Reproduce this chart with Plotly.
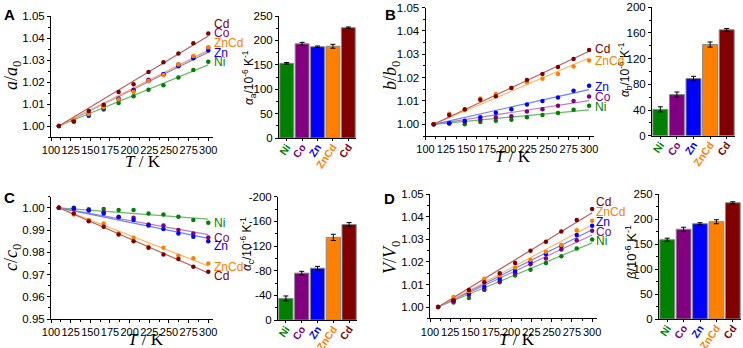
import numpy as np
import plotly.graph_objects as go

W, H = 743, 348

# ---------------- data ----------------
T = [110, 129, 148, 167, 186, 205, 224, 243, 262, 281, 300]
names = ["Ni", "Co", "Zn", "ZnCd", "Cd"]

a_Ni   = [1.000, 1.0020, 1.0045, 1.0075, 1.0105, 1.0135, 1.0165, 1.0185, 1.0220, 1.0255, 1.0292]
a_Co   = [1.000, 1.0025, 1.0055, 1.0090, 1.0125, 1.0165, 1.0210, 1.0235, 1.0280, 1.0315, 1.0355]
a_Zn   = [1.000, 1.0025, 1.0050, 1.0080, 1.0120, 1.0160, 1.0205, 1.0235, 1.0272, 1.0308, 1.0343]
a_ZnCd = [1.000, 1.0030, 1.0055, 1.0085, 1.0120, 1.0155, 1.0205, 1.0232, 1.0280, 1.0318, 1.0358]
a_Cd   = [1.000, 1.0020, 1.0068, 1.0097, 1.0155, 1.0190, 1.0246, 1.0290, 1.0330, 1.0376, 1.0421]

b_Ni   = [1.000, 1.0003, 1.0000, 1.0010, 1.0015, 1.0020, 1.0030, 1.0040, 1.0048, 1.0062, 1.0079]
b_Co   = [1.000, 1.0005, 1.0010, 1.0020, 1.0030, 1.0035, 1.0055, 1.0065, 1.0080, 1.0100, 1.0119]
b_Zn   = [1.000, 1.0005, 1.0015, 1.0030, 1.0050, 1.0065, 1.0085, 1.0100, 1.0115, 1.0144, 1.0165]
b_ZnCd = [1.000, 1.0045, 1.0060, 1.0110, 1.0130, 1.0155, 1.0180, 1.0195, 1.0215, 1.0248, 1.0273]
b_Cd   = [1.000, 1.0040, 1.0065, 1.0105, 1.0120, 1.0155, 1.0190, 1.0215, 1.0245, 1.0280, 1.0318]

c_Ni   = [1.000, 1.0000, 0.9993, 0.9995, 0.9990, 0.9990, 0.9975, 0.9970, 0.9960, 0.9945, 0.9933]
c_Co   = [1.000, 0.9995, 0.9990, 0.9980, 0.9960, 0.9955, 0.9925, 0.9920, 0.9900, 0.9885, 0.9866]
c_Zn   = [1.000, 0.9998, 0.9988, 0.9975, 0.9958, 0.9945, 0.9920, 0.9905, 0.9885, 0.9870, 0.9850]
c_ZnCd = [1.000, 0.9970, 0.9945, 0.9930, 0.9885, 0.9865, 0.9825, 0.9820, 0.9785, 0.9773, 0.9750]
c_Cd   = [1.000, 0.9975, 0.9940, 0.9915, 0.9880, 0.9850, 0.9820, 0.9790, 0.9770, 0.9735, 0.9713]

V_Ni   = [1.000, 1.0020, 1.0040, 1.0075, 1.0110, 1.0140, 1.0165, 1.0195, 1.0225, 1.0260, 1.0300]
V_Co   = [1.000, 1.0025, 1.0055, 1.0080, 1.0115, 1.0150, 1.0190, 1.0215, 1.0255, 1.0296, 1.0338]
V_Zn   = [1.000, 1.0030, 1.0060, 1.0090, 1.0125, 1.0160, 1.0200, 1.0235, 1.0270, 1.0320, 1.0360]
V_ZnCd = [1.000, 1.0045, 1.0070, 1.0125, 1.0140, 1.0175, 1.0210, 1.0245, 1.0275, 1.0340, 1.0383]
V_Cd   = [1.000, 1.0030, 1.0075, 1.0110, 1.0150, 1.0195, 1.0250, 1.0290, 1.0335, 1.0386, 1.0435]

alpha_a = [153, 193, 187, 188, 226]
alpha_a_err = [1.5, 3, 1.5, 4, 1.5]
alpha_b = [41, 64, 89, 142, 165]
alpha_b_err = [4, 4, 3.5, 4, 2]
alpha_c = [-35, -76, -84, -134, -155]
alpha_c_err = [4, 3, 3, 5, 3]
beta_V = [159, 180, 191, 195, 233]
beta_V_err = [3, 4, 2, 4, 2]

marker_col = {"Ni": "#008000", "Co": "#800080", "Zn": "#0000ff", "ZnCd": "#ff8000", "Cd": "#800000"}
line_col = {"Ni": "#66bb66", "Co": "#c07ac0", "Zn": "#6680ff", "ZnCd": "#ffb566", "Cd": "#b86060"}

SANS = "Arial, Liberation Sans, sans-serif"
NARROW = "Liberation Sans Narrow, Arial Narrow, Arial, sans-serif"
SERIF = "Times New Roman, Liberation Serif, serif"

fig = go.Figure()

def xd(p0, p1):
    return [p0 / W, p1 / W]

def yd(top, bot):
    return [1 - bot / H, 1 - top / H]

def line_panel(idx, series, xdom, ydom, yrange):
    xa, ya = f"x{idx}", f"y{idx}"
    for nm in names:
        y = np.array(series[nm])
        t = np.array(T, dtype=float)
        slope = np.sum((t - t[0]) * (y - 1)) / np.sum((t - t[0]) ** 2)
        fig.add_trace(go.Scatter(x=[t[0], t[-1]], y=[1, 1 + slope * (t[-1] - t[0])],
                                 mode="lines", line=dict(color=line_col[nm], width=1.2),
                                 xaxis=xa, yaxis=ya, showlegend=False, hoverinfo="skip"))
    for nm in names:
        fig.add_trace(go.Scatter(x=T, y=series[nm], mode="markers",
                                 marker=dict(color=marker_col[nm], size=4.5, symbol="circle"),
                                 xaxis=xa, yaxis=ya, showlegend=False, name=nm))
    key = "" if idx == 1 else str(idx)
    fig.layout["xaxis" + key] = dict(domain=xdom, range=[100, 306], anchor=ya, automargin=False,
                                     tickvals=list(range(100, 301, 25)), tickangle=0, showline=True,
                                     linecolor="black", linewidth=1, ticks="outside", ticklen=3,
                                     tickcolor="black", showgrid=False, zeroline=False,
                                     minor=dict(ticks="outside", ticklen=2, tick0=100, dtick=12.5, tickcolor="black"),
                                     tickfont=dict(family=NARROW, size=11, color="black"))
    fig.layout["yaxis" + key] = dict(domain=ydom, range=yrange, anchor=xa, dtick=0.01, automargin=False,
                                     tickformat=".2f", showline=True, linecolor="black",
                                     linewidth=1, ticks="outside", ticklen=3, tickcolor="black",
                                     showgrid=False, zeroline=False,
                                     minor=dict(ticks="outside", ticklen=2, dtick=0.005, tickcolor="black"),
                                     tickfont=dict(family=NARROW, size=11.5, color="black"))

def bar_panel(idx, vals, errs, xdom, ydom, yrange, dtick, mdtick):
    xa, ya = f"x{idx}", f"y{idx}"
    fig.add_trace(go.Bar(x=names, y=vals,
                         marker=dict(color=[marker_col[n] for n in names],
                                     line=dict(color="#888888", width=1)),
                         error_y=dict(type="data", array=errs, color="black", thickness=1, width=2.5),
                         xaxis=xa, yaxis=ya, showlegend=False, width=0.9))
    key = str(idx)
    lo, hi = sorted(yrange)
    tv = list(range(int(lo), int(hi) + 1, dtick))
    fig.layout["xaxis" + key] = dict(domain=xdom, range=[-0.5, 4.5], anchor=ya, automargin=False,
                                     tickvals=names,
                                     ticktext=[f"<b><span style='color:{marker_col[n]}'>{n}</span></b>" for n in names],
                                     tickangle=-55, showline=True, linecolor="black", linewidth=1,
                                     ticks="outside", ticklen=2, tickcolor="black", showgrid=False,
                                     ticklabelstandoff=-4,
                                     tickfont=dict(family=NARROW, size=10.5, color="black"))
    fig.layout["yaxis" + key] = dict(domain=ydom, range=yrange, anchor=xa, automargin=False,
                                     tickvals=tv, ticktext=[str(v) for v in tv],
                                     showline=True, linecolor="black", linewidth=1,
                                     ticks="outside", ticklen=3, tickcolor="black",
                                     showgrid=False, zeroline=False,
                                     minor=dict(ticks="outside", ticklen=2, dtick=mdtick, tickcolor="black"),
                                     tickfont=dict(family=NARROW, size=11.5, color="black"))

A = dict(Ni=a_Ni, Co=a_Co, Zn=a_Zn, ZnCd=a_ZnCd, Cd=a_Cd)
B = dict(Ni=b_Ni, Co=b_Co, Zn=b_Zn, ZnCd=b_ZnCd, Cd=b_Cd)
C = dict(Ni=c_Ni, Co=c_Co, Zn=c_Zn, ZnCd=c_ZnCd, Cd=c_Cd)
D = dict(Ni=V_Ni, Co=V_Co, Zn=V_Zn, ZnCd=V_ZnCd, Cd=V_Cd)

line_panel(1, A, xd(51, 213), yd(16, 137), [0.995, 1.05])
bar_panel(2, alpha_a, alpha_a_err, xd(279, 356), yd(16, 138), [0, 250], 50, 25)
line_panel(3, B, xd(425.5, 594), yd(7.5, 136), [0.995, 1.05])
bar_panel(4, alpha_b, alpha_b_err, xd(652, 735), yd(7.3, 135.7), [0, 200], 40, 20)
line_panel(5, C, xd(51, 213), yd(196.7, 319), [0.95, 1.005])
bar_panel(6, alpha_c, alpha_c_err, xd(278, 357), yd(196.7, 320), [0, -200], 40, 20)
line_panel(7, D, xd(430, 597), yd(194.3, 318.3), [0.995, 1.05])
bar_panel(8, beta_V, beta_V_err, xd(659, 741), yd(194.3, 319), [0, 250], 50, 25)

ann = []

def txt(x, y, s, size=12, family=SANS, color="black", angle=0, xanchor="center"):
    ann.append(dict(x=x / W, y=1 - y / H, xref="paper", yref="paper", text=s, showarrow=False,
                    font=dict(family=family, size=size, color=color), textangle=angle,
                    xanchor=xanchor, yanchor="middle"))

# panel letters
txt(9, 14, "<b>A</b>", 15)
txt(390, 14, "<b>B</b>", 15)
txt(9, 197, "<b>C</b>", 15)
txt(389, 198, "<b>D</b>", 15)

# axis titles
txt(12, 76, "<i>a</i>/<i>a</i><sub>0</sub>", 18, SERIF, angle=-90)
txt(391, 76, "<i>b</i>/<i>b</i><sub>0</sub>", 18, SERIF, angle=-90)
txt(12, 258, "<i>c</i>/<i>c</i><sub>0</sub>", 18, SERIF, angle=-90)
txt(391, 258, "<i>V</i>/<i>V</i><sub>0</sub>", 18, SERIF, angle=-90)
for (x, y) in [(143, 161), (513, 156), (146, 339), (517, 339)]:
    txt(x, y, "<i>T</i> / K", 17, SERIF)
txt(249, 78, "<i>α</i><sub>a</sub>/10<sup>-6</sup> K<sup>-1</sup>", 12, angle=-90)
txt(625, 70, "<i>α</i><sub>b</sub>/10<sup>-6</sup> K<sup>-1</sup>", 12, angle=-90)
txt(247, 244, "<i>α</i><sub>c</sub>/10<sup>-6</sup> K<sup>-1</sup>", 12, angle=-90)
txt(631, 253, "<i>β</i>/10<sup>-6</sup> K<sup>-1</sup>", 13, angle=-90)

# series labels at line ends
labs = {
    "A": (212, [("Cd", 24), ("Co", 33), ("ZnCd", 43), ("Zn", 53), ("Ni", 62)]),
    "B": (593, [("Cd", 49), ("ZnCd", 61), ("Zn", 87), ("Co", 97), ("Ni", 107)]),
    "C": (212, [("Ni", 223), ("Co", 238), ("Zn", 246), ("ZnCd", 267), ("Cd", 276)]),
    "D": (594, [("Cd", 202), ("ZnCd", 212), ("Zn", 222), ("Co", 232), ("Ni", 241)]),
}
for k, (x0, items) in labs.items():
    for nm, y in items:
        txt(x0, y, nm, 12, color=marker_col[nm], xanchor="left")

fig.update_layout(width=W, height=H, margin=dict(l=0, r=0, t=0, b=0, autoexpand=False),
                  plot_bgcolor="white", paper_bgcolor="white", annotations=ann,
                  bargap=0.05, font=dict(family=SANS, color="black"))

fig.write_html("out.html", config={"displayModeBar": False},
               post_script="document.body.style.margin='0px';document.body.style.overflow='hidden';")
